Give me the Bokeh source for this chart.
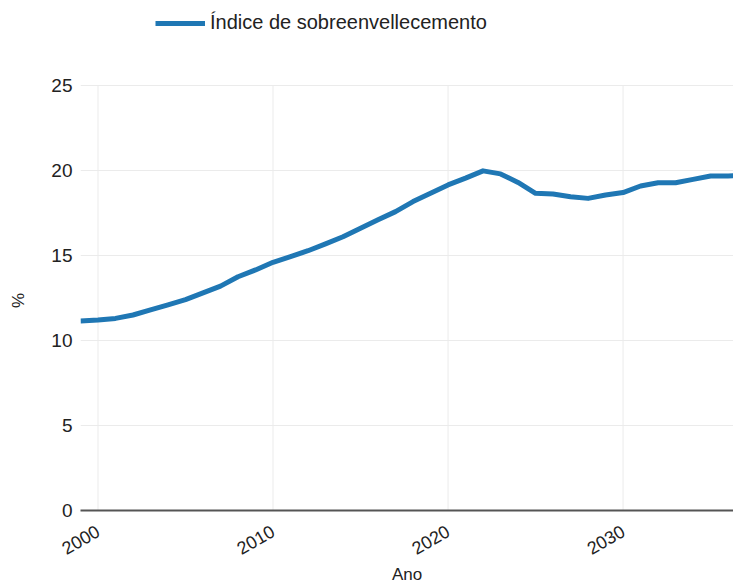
import math
from bokeh.plotting import figure
from bokeh.models import Range1d, FixedTicker, Legend, LegendItem
from bokeh.embed import file_html
from bokeh.resources import INLINE

years = list(range(1999, 2038))
values = [11.15, 11.2, 11.3, 11.5, 11.8, 12.1, 12.4, 12.8, 13.2, 13.75,
          14.15, 14.6, 14.93, 15.28, 15.68, 16.1, 16.6, 17.1, 17.58, 18.17,
          18.66, 19.15, 19.55, 19.98, 19.8, 19.3, 18.66, 18.62, 18.46, 18.36,
          18.56, 18.7, 19.09, 19.28, 19.28, 19.48, 19.68, 19.68, 19.7]
series_name = "Índice de sobreenvellecemento"
x_ticks = [2000, 2010, 2020, 2030]
y_ticks = [0, 5, 10, 15, 20, 25]
y_max = 25

FONT = "Liberation Sans"

# frame reaches the top of the page so the legend (drawn inside it) is not clipped
p = figure(width=733, height=586, output_backend="svg", toolbar_location=None,
           x_range=Range1d(1999, 2036.31), y_range=Range1d(0, 30),
           min_border_left=80, min_border_right=0, min_border_top=0,
           min_border_bottom=76)
p.outline_line_color = None
p.background_fill_color = "white"
p.border_fill_color = "white"

# vertical grid lines limited to the value range 0..25
p.xgrid.visible = False
p.segment(x0=x_ticks, y0=[0] * len(x_ticks), x1=x_ticks, y1=[y_max] * len(x_ticks),
          line_color="#ebebeb", line_width=1)
p.ygrid.ticker = FixedTicker(ticks=y_ticks)
p.ygrid.grid_line_color = "#ebebeb"
p.ygrid.grid_line_width = 1

r = p.line(years, values, line_color="#1f77b4", line_width=5, line_join="round")

# x axis
xa = p.xaxis[0]
xa.ticker = FixedTicker(ticks=x_ticks)
xa.major_label_orientation = math.pi / 6
xa.major_tick_in = 0
xa.major_tick_out = 0
xa.minor_tick_in = 0
xa.minor_tick_out = 0
xa.axis_line_color = "#555555"
xa.axis_line_width = 2
xa.major_label_standoff = 19
xa.major_label_text_font = FONT
xa.major_label_text_font_size = "18px"
xa.major_label_text_color = "#222222"
xa.axis_label = "Ano"
xa.axis_label_text_font = FONT
xa.axis_label_text_font_size = "17px"
xa.axis_label_text_font_style = "normal"
xa.axis_label_text_color = "#222222"
xa.axis_label_standoff = 1

# y axis
ya = p.yaxis[0]
ya.ticker = FixedTicker(ticks=y_ticks)
ya.bounds = (0, y_max)
ya.major_tick_in = 0
ya.major_tick_out = 0
ya.minor_tick_in = 0
ya.minor_tick_out = 0
ya.axis_line_color = None
ya.major_label_standoff = 8
ya.major_label_text_font = FONT
ya.major_label_text_font_size = "19px"
ya.major_label_text_color = "#222222"
# trailing no-break spaces move the "%" down to the middle of the 0..25 area
ya.axis_label = "%" + "\u00a0" * 19
ya.axis_label_text_font = FONT
ya.axis_label_text_font_size = "17px"
ya.axis_label_text_font_style = "normal"
ya.axis_label_text_color = "#222222"
ya.axis_label_standoff = 20

legend = Legend(items=[LegendItem(label=series_name, renderers=[r])],
                location=(75, 476), orientation="horizontal",
                border_line_color=None, background_fill_alpha=0,
                padding=0, margin=0, glyph_width=50, glyph_height=22,
                label_standoff=5, label_text_font=FONT,
                label_text_font_size="20px", label_text_color="#222222",
                label_height=22)
p.add_layout(legend, "center")

open("out.html", "w").write(file_html(p, INLINE))
